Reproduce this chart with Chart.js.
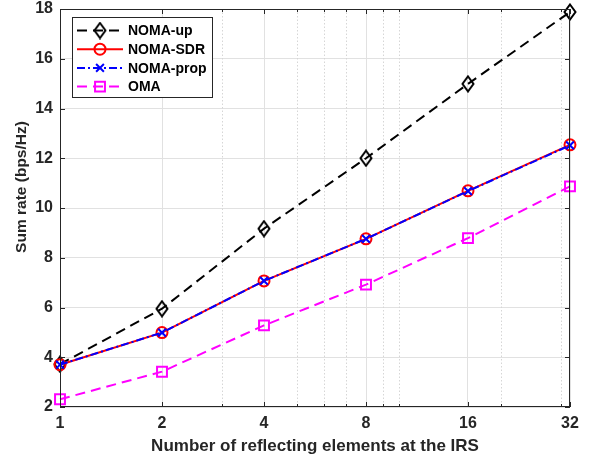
<!DOCTYPE html>
<html>
<head>
<meta charset="utf-8">
<script src="https://cdn.jsdelivr.net/npm/chart.js@4.4.1/dist/chart.umd.min.js"></script>
<style>
  html, body { margin: 0; padding: 0; background: #fff; }
  #wrap { width: 593px; height: 461px; }
</style>
</head>
<body>
<div id="wrap"><canvas id="myChart"></canvas></div>
<script>
// values
const elements = [1, 2, 4, 8, 16, 32];
const nomaUp   = [3.72, 5.95, 9.17, 12.0, 14.99, 17.88];
const nomaSdr  = [3.70, 4.99, 7.07, 8.76, 10.69, 12.54];
const nomaProp = [3.70, 4.99, 7.07, 8.76, 10.68, 12.52];
const oma      = [2.31, 3.42, 5.28, 6.92, 8.79, 10.87];
const xMinor   = [3, 5, 6, 7, 9, 10, 20, 30];
const yTicks   = [2, 4, 6, 8, 10, 12, 14, 16, 18];

const axisColor = '#262626';
const gridColor = '#e1e1e1';
const font = 'Liberation Sans, Arial, sans-serif';

// MATLAB diamond is a bit taller than wide
function diamond(color) {
  const c = document.createElement('canvas');
  c.width = 14; c.height = 18;
  const g = c.getContext('2d');
  g.strokeStyle = color; g.lineWidth = 2;
  g.beginPath();
  g.moveTo(7, 1.5); g.lineTo(12.5, 9); g.lineTo(7, 16.5); g.lineTo(1.5, 9); g.closePath();
  g.stroke();
  return c;
}
const diamondMark = diamond('#000000');

function pts(ys) {
  return elements.map((x, i) => ({ x: x, y: ys[i] }));
}

const datasets = [
  { label: 'NOMA-up', data: pts(nomaUp), borderColor: '#000000', borderDash: [10, 6],
    pointStyle: diamondMark, pointRadius: 7, order: 4 },
  { label: 'NOMA-SDR', data: pts(nomaSdr), borderColor: '#ff0000', borderDash: [],
    pointStyle: 'circle', pointRadius: 5.5, order: 3 },
  { label: 'NOMA-prop', data: pts(nomaProp), borderColor: '#0000ff', borderDash: [8, 3, 2, 3],
    pointStyle: 'crossRot', pointRadius: 5.5, order: 2 },
  { label: 'OMA', data: pts(oma), borderColor: '#ff00ff', borderDash: [10, 6],
    pointStyle: 'rect', pointRadius: 7, order: 1 }
].map(d => Object.assign(d, {
  borderWidth: 2, pointBorderColor: d.borderColor, pointBackgroundColor: 'rgba(0,0,0,0)',
  pointBorderWidth: 2, pointHoverRadius: d.pointRadius, fill: false, tension: 0, clip: false
}));

// minor grid, box with inward ticks, y label, MATLAB-like legend
const matlabAxes = {
  id: 'matlabAxes',
  beforeDatasetsDraw(chart) {
    const { ctx, chartArea: a, scales: { x } } = chart;
    ctx.save();
    ctx.strokeStyle = '#d6d6d6';
    ctx.lineWidth = 1;
    ctx.setLineDash([1.5, 2]);
    xMinor.forEach(v => {
      const px = Math.round(x.getPixelForValue(v)) + 0.5;
      ctx.beginPath(); ctx.moveTo(px, a.top); ctx.lineTo(px, a.bottom); ctx.stroke();
    });
    ctx.restore();
  },
  afterDraw(chart) {
    const { ctx, chartArea: a, scales: { x, y } } = chart;
    ctx.save();
    ctx.strokeStyle = axisColor;
    ctx.lineWidth = 1;
    ctx.setLineDash([]);
    ctx.strokeRect(a.left + 0.5, a.top + 0.5, a.right - a.left - 1, a.bottom - a.top - 1);
    ctx.beginPath();
    elements.forEach(v => {
      const px = Math.round(x.getPixelForValue(v)) + 0.5;
      ctx.moveTo(px, a.bottom); ctx.lineTo(px, a.bottom - 5);
      ctx.moveTo(px, a.top); ctx.lineTo(px, a.top + 5);
    });
    xMinor.forEach(v => {
      const px = Math.round(x.getPixelForValue(v)) + 0.5;
      ctx.moveTo(px, a.bottom); ctx.lineTo(px, a.bottom - 3);
      ctx.moveTo(px, a.top); ctx.lineTo(px, a.top + 3);
    });
    yTicks.forEach(v => {
      const py = Math.round(y.getPixelForValue(v)) + 0.5;
      ctx.moveTo(a.left, py); ctx.lineTo(a.left + 5, py);
      ctx.moveTo(a.right, py); ctx.lineTo(a.right - 5, py);
    });
    ctx.stroke();

    // y axis label (sits a little above the middle in the original)
    ctx.save();
    ctx.translate(22, 187);
    ctx.rotate(-Math.PI / 2);
    ctx.fillStyle = axisColor;
    ctx.font = 'bold 15.5px ' + font;
    ctx.textAlign = 'center';
    ctx.textBaseline = 'middle';
    ctx.fillText('Sum rate (bps/Hz)', 0, 0);
    ctx.restore();

    // legend
    const bx = 72, by = 17, bw = 140, bh = 80;
    ctx.fillStyle = '#ffffff';
    ctx.fillRect(bx, by, bw, bh);
    ctx.strokeStyle = axisColor;
    ctx.strokeRect(bx + 0.5, by + 0.5, bw, bh);
    ctx.font = 'bold 14px ' + font;
    ctx.textBaseline = 'middle';
    ctx.textAlign = 'left';
    chart.data.datasets.forEach((d, i) => {
      const cy = 30.5 + i * 18.7;
      ctx.strokeStyle = d.borderColor;
      ctx.lineWidth = 2;
      ctx.setLineDash(d.borderDash);
      ctx.beginPath(); ctx.moveTo(77, cy); ctx.lineTo(123, cy); ctx.stroke();
      ctx.setLineDash([]);
      ctx.fillStyle = 'rgba(0,0,0,0)';
      if (d.pointStyle instanceof HTMLCanvasElement) {
        ctx.drawImage(d.pointStyle, 100 - d.pointStyle.width / 2, cy - d.pointStyle.height / 2);
      } else {
        Chart.helpers.drawPoint(ctx, { pointStyle: d.pointStyle, radius: d.pointRadius, rotation: 0, borderWidth: 2 }, 100, cy);
      }
      ctx.fillStyle = '#000000';
      ctx.fillText(d.label, 128, cy + 1);
    });
    ctx.restore();
  }
};

new Chart(document.getElementById('myChart'), {
  type: 'line',
  data: { datasets: datasets },
  plugins: [matlabAxes],
  options: {
    responsive: true,
    maintainAspectRatio: false,
    animation: false,
    layout: { padding: { left: 0, right: 23, top: 5, bottom: 0 } },
    plugins: { legend: { display: false }, tooltip: { enabled: false } },
    scales: {
      x: {
        type: 'logarithmic',
        min: 1, max: 32,
        afterBuildTicks: s => { s.ticks = elements.map(v => ({ value: v })); },
        afterFit: s => { s.height = 54; s.paddingLeft = 0; s.paddingRight = 0; },
        grid: { color: gridColor, drawTicks: false },
        border: { display: false },
        ticks: {
          autoSkip: false, maxRotation: 0, padding: 7, color: axisColor,
          font: { family: font, size: 16, weight: 'bold' },
          callback: v => String(v)
        },
        title: {
          display: true, text: 'Number of reflecting elements at the IRS', color: axisColor,
          font: { family: font, size: 17, weight: 'bold' }, padding: { top: 0, bottom: 4 }
        }
      },
      y: {
        min: 2, max: 18,
        afterBuildTicks: s => { s.ticks = yTicks.map(v => ({ value: v })); },
        afterFit: s => { s.width = 60; s.paddingTop = 0; s.paddingBottom = 0; },
        grid: { color: gridColor, drawTicks: false },
        border: { display: false },
        ticks: {
          padding: 7, color: axisColor,
          font: { family: font, size: 16, weight: 'bold' }
        },
        title: { display: false }
      }
    }
  }
});
</script>
</body>
</html>
